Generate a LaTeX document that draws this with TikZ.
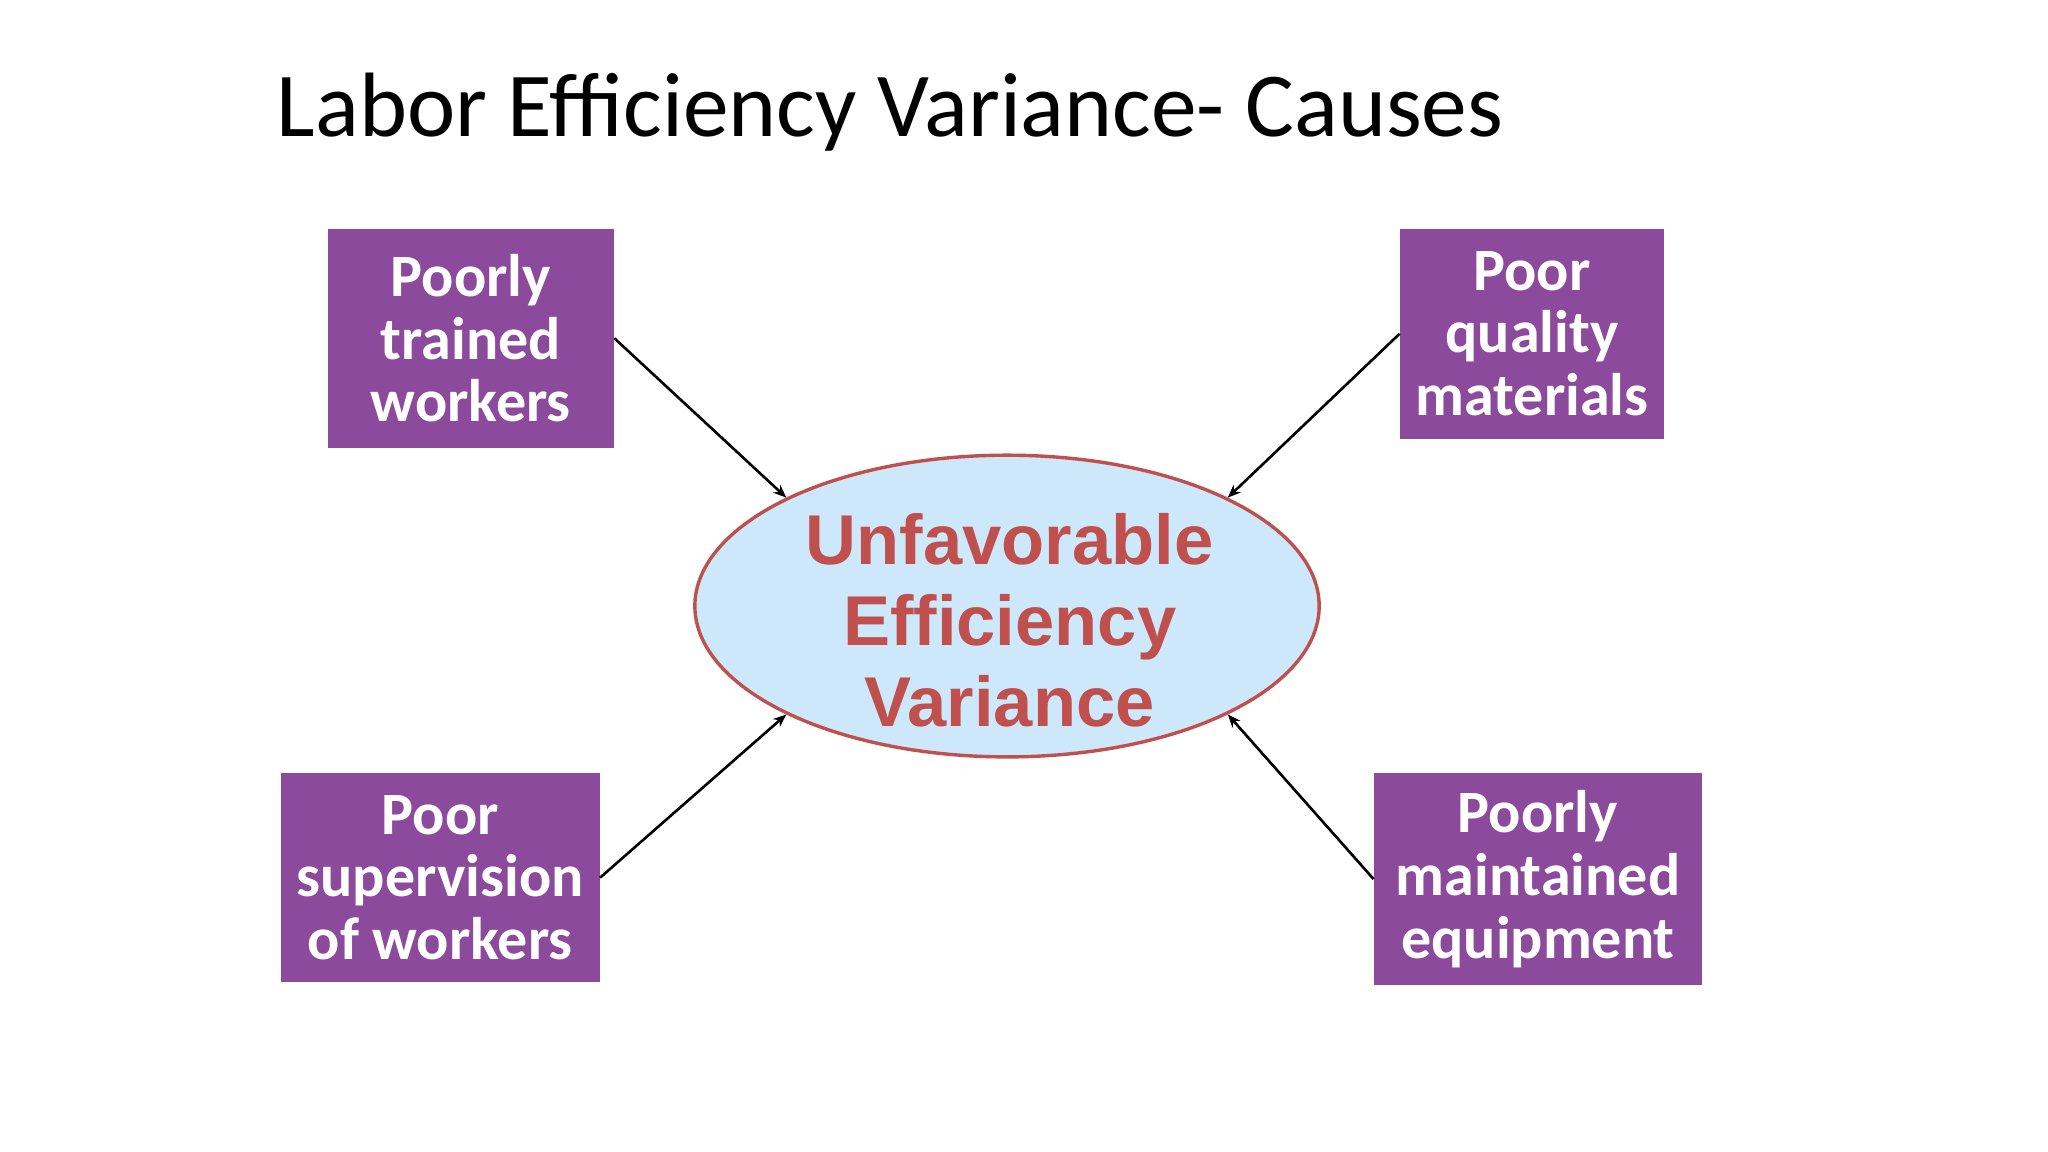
\documentclass[tikz,border=0pt]{standalone}
\usepackage{fontspec}
\setmainfont{Carlito}
\newfontfamily\arialb{Liberation Sans}
\usetikzlibrary{shapes.geometric,arrows.meta}
\definecolor{boxpurple}{HTML}{8B4A9B}
\definecolor{ellfill}{HTML}{CCE8FA}
\definecolor{ellred}{HTML}{C0504D}
\tikzset{
 cause/.style={fill=boxpurple,text=white,align=center,inner sep=0pt,font=\fontsize{23}{24}\selectfont\bfseries},
 conn/.style={-{Stealth[length=5pt,width=4pt]},line width=1pt}
}
\begin{document}
\begin{tikzpicture}[x=0.5pt,y=-0.5pt]
\fill[white] (0,0) rectangle (1568,882);
\node[anchor=west,font=\fontsize{35}{40}\selectfont] (title) at (205,86) {Labor Efficiency Variance- Causes};
\node[ellipse,draw=ellred,line width=1.3pt,fill=ellfill,minimum width=239pt,minimum height=115.5pt,inner sep=0pt] (ell) at (771,464) {};
\node[text=ellred,align=center,font=\arialb\fontsize{27}{31}\selectfont\bfseries] (lbl) at (773,475) {Unfavorable\\Efficiency\\Variance};
\node[cause,minimum width=109.5pt,minimum height=84pt] (tl) at (360.5,259) {Poorly\\trained\\workers};
\node[cause,minimum width=101pt,minimum height=80.5pt] (tr) at (1173,255.5) {Poor\\quality\\materials};
\node[cause,minimum width=122pt,minimum height=80pt] (bl) at (337,672) {Poor\\supervision\\of workers};
\node[cause,minimum width=125.5pt,minimum height=81pt] (br) at (1177.5,673) {Poorly\\maintained\\equipment};
\coordinate (e1) at (602,381);
\coordinate (e2) at (940,381);
\coordinate (e3) at (602,547);
\coordinate (e4) at (940,547);
\draw[conn] (tl.east) -- (e1);
\draw[conn] (tr.west) -- (e2);
\draw[conn] (bl.east) -- (e3);
\draw[conn] (br.west) -- (e4);
\end{tikzpicture}
\end{document}
